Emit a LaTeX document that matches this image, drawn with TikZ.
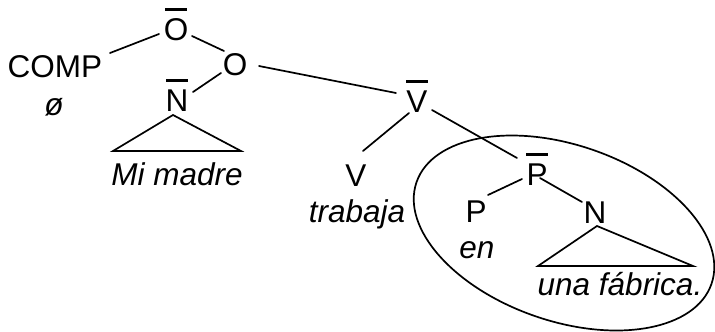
\documentclass[tikz,border=0pt]{standalone}
\usepackage{fontspec}
\setmainfont{Liberation Sans}
\newcommand\barred[1]{\ooalign{#1\cr\hidewidth\rule[29.4pt]{22pt}{2.4pt}\hidewidth\cr}}
\tikzset{
  lbl/.style={inner sep=0pt, anchor=base, font=\fontsize{31.5}{38}\selectfont},
  ilbl/.style={lbl, font=\fontsize{31.5}{38}\selectfont\itshape},
  branch/.style={line width=1.7pt, line cap=round},
}
\begin{document}
\begin{tikzpicture}[x=1pt,y=-1pt]
\useasboundingbox (0,0) rectangle (715,332);
% labels
\node[lbl]  (comp)    at (55,77)   {COMP};
\node[ilbl] (null)    at (54,115)  {ø};
\node[lbl]  (obar)    at (176,40)  {\barred{O}};
\node[lbl]  (o)       at (235,75)  {O};
\node[lbl]  (nbar)    at (177,111) {\barred{N}};
\node[ilbl] (mimadre) at (177,185) {Mi madre};
\node[lbl]  (vbar)    at (417,112) {\barred{V}};
\node[lbl]  (v)       at (356,186) {V};
\node[ilbl] (trabaja) at (357,222) {trabaja};
\node[lbl]  (pbar)    at (537,185) {\barred{P}};
\node[lbl]  (p)       at (476,222) {P};
\node[ilbl] (en)      at (477,258) {en};
\node[lbl]  (n)       at (595,223) {N};
\node[ilbl] (una)     at (620,295) {una fábrica.};
% branches
\draw[branch] ([shift={(55,-24)}]comp.base) -- ([shift={(-17,-6)}]obar.base);
\draw[branch] ([shift={(16,-4)}]obar.base) -- ([shift={(-11,-24)}]o.base);
\draw[branch] ([shift={(-14,-2)}]o.base) -- ([shift={(16,-19)}]nbar.base);
\draw[branch] ([shift={(24,-9)}]o.base) -- ([shift={(-21,-19)}]vbar.base);
\draw[branch] ([shift={(-8,1)}]vbar.base) -- ([shift={(7,-35)}]v.base);
\draw[branch] ([shift={(15,-2)}]vbar.base) -- ([shift={(-20,-27)}]pbar.base);
\draw[branch] ([shift={(-15,-6)}]pbar.base) -- ([shift={(12,-27)}]p.base);
\draw[branch] ([shift={(3,-7)}]pbar.base) -- ([shift={(-13,-21)}]n.base);
% triangles
\draw[branch, line join=miter] ([shift={(-64,-34)}]mimadre.base) -- ([shift={(-4,4)}]nbar.base) -- ([shift={(64,-34)}]mimadre.base) -- cycle;
\draw[branch, line join=miter] ([shift={(-82,-29)}]una.base) -- ([shift={(2,3)}]n.base) -- ([shift={(73,-29)}]una.base) -- cycle;
% ellipse
\coordinate (ec) at (564,233);
\draw[line width=1.7pt, rotate around={-19:(ec)}] (ec) ellipse [x radius=156pt, y radius=88pt];
\end{tikzpicture}
\end{document}
